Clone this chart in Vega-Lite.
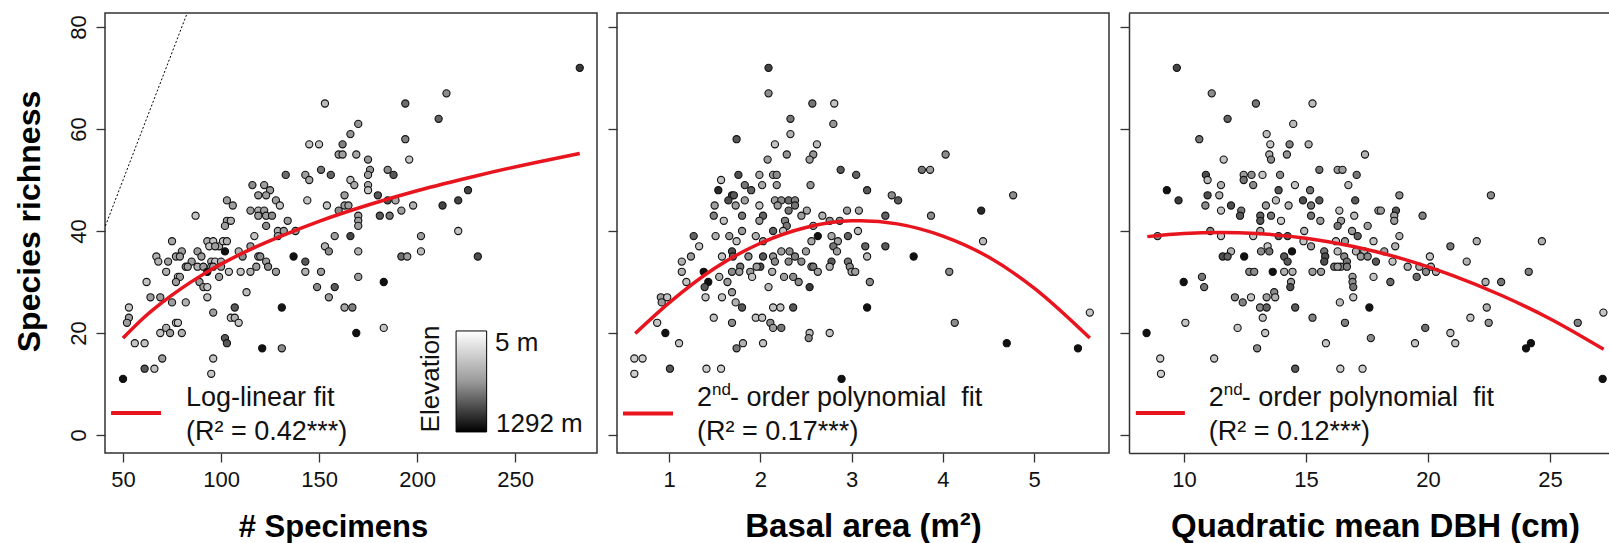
{
"$schema": "https://vega.github.io/schema/vega-lite/v6.json",
"padding": {"left": 12, "top": 12, "right": 0, "bottom": 0},
"autosize": {"type": "pad"},
"background": "white",
"spacing": 20,
"bounds": "flush",
"resolve": {"scale": {"x": "independent"}},
"config": {
  "view": {"stroke": "#333", "strokeWidth": 1.5},
  "axis": {"labelFont": "Liberation Sans", "labelFontSize": 22, "labelColor": "#111", "tickColor": "#333", "tickWidth": 1.3, "tickSize": 9, "domain": false, "grid": false, "titleFont": "Liberation Sans", "titleFontWeight": "bold", "titleFontSize": 31, "titleColor": "#000"},
  "text": {"font": "Liberation Sans", "color": "#111"}
},
"datasets": {
  "specimens": [
{"x":283,"richness":72,"elevation":1000},{"x":215,"richness":67,"elevation":600},{"x":153,"richness":65,"elevation":350},{"x":194,"richness":65,"elevation":750},{"x":211,"richness":62,"elevation":800},{"x":170,"richness":61,"elevation":550},{"x":166,"richness":59,"elevation":550},{"x":194,"richness":58,"elevation":650},{"x":145,"richness":57,"elevation":300},{"x":150,"richness":57,"elevation":300},{"x":162,"richness":57,"elevation":650},{"x":160,"richness":55,"elevation":500},{"x":162,"richness":55,"elevation":500},{"x":169,"richness":55,"elevation":450},{"x":175,"richness":54,"elevation":550},{"x":196,"richness":54,"elevation":300},{"x":151,"richness":52,"elevation":700},{"x":156,"richness":51,"elevation":800},{"x":176,"richness":52,"elevation":550},{"x":185,"richness":52,"elevation":600},{"x":188,"richness":51,"elevation":850},{"x":175,"richness":51,"elevation":500},{"x":133,"richness":51,"elevation":750},{"x":143,"richness":51,"elevation":500},{"x":145,"richness":50,"elevation":450},{"x":166,"richness":50,"elevation":300},{"x":168,"richness":49,"elevation":450},{"x":175,"richness":49,"elevation":450},{"x":175,"richness":48,"elevation":300},{"x":226,"richness":48,"elevation":950},{"x":116,"richness":49,"elevation":600},{"x":122,"richness":49,"elevation":500},{"x":125,"richness":48,"elevation":500},{"x":119,"richness":47,"elevation":500},{"x":123,"richness":47,"elevation":500},{"x":144,"richness":46,"elevation":300},{"x":163,"richness":47,"elevation":500},{"x":180,"richness":47,"elevation":850},{"x":185,"richness":46,"elevation":900},{"x":189,"richness":46,"elevation":450},{"x":213,"richness":45,"elevation":950},{"x":221,"richness":46,"elevation":950},{"x":103,"richness":46,"elevation":500},{"x":106,"richness":45,"elevation":500},{"x":128,"richness":46,"elevation":500},{"x":130,"richness":45,"elevation":300},{"x":154,"richness":45,"elevation":300},{"x":163,"richness":45,"elevation":500},{"x":165,"richness":45,"elevation":500},{"x":198,"richness":45,"elevation":400},{"x":115,"richness":44,"elevation":500},{"x":119,"richness":44,"elevation":400},{"x":122,"richness":44,"elevation":500},{"x":160,"richness":44,"elevation":600},{"x":192,"richness":44,"elevation":500},{"x":87,"richness":43,"elevation":300},{"x":103,"richness":42,"elevation":500},{"x":105,"richness":42,"elevation":400},{"x":119,"richness":43,"elevation":500},{"x":123,"richness":43,"elevation":500},{"x":126,"richness":43,"elevation":600},{"x":170,"richness":43,"elevation":500},{"x":181,"richness":43,"elevation":850},{"x":186,"richness":43,"elevation":700},{"x":134,"richness":42,"elevation":500},{"x":170,"richness":42,"elevation":500},{"x":170,"richness":41,"elevation":500},{"x":102,"richness":41,"elevation":500},{"x":123,"richness":41,"elevation":600},{"x":129,"richness":40,"elevation":400},{"x":132,"richness":40,"elevation":500},{"x":138,"richness":40,"elevation":500},{"x":221,"richness":40,"elevation":300},{"x":129,"richness":39,"elevation":500},{"x":117,"richness":39,"elevation":300},{"x":158,"richness":39,"elevation":500},{"x":166,"richness":39,"elevation":950},{"x":202,"richness":39,"elevation":500},{"x":75,"richness":38,"elevation":450},{"x":93,"richness":38,"elevation":400},{"x":96,"richness":38,"elevation":300},{"x":99,"richness":37,"elevation":400},{"x":101,"richness":38,"elevation":300},{"x":103,"richness":38,"elevation":400},{"x":153,"richness":37,"elevation":400},{"x":155,"richness":36,"elevation":600},{"x":170,"richness":36,"elevation":400},{"x":202,"richness":36,"elevation":350},{"x":80,"richness":36,"elevation":500},{"x":88,"richness":36,"elevation":500},{"x":94,"richness":37,"elevation":300},{"x":97,"richness":37,"elevation":500},{"x":102,"richness":36,"elevation":1230},{"x":109,"richness":36,"elevation":400},{"x":111,"richness":35,"elevation":600},{"x":115,"richness":37,"elevation":500},{"x":67,"richness":35,"elevation":400},{"x":68,"richness":34,"elevation":400},{"x":73,"richness":34,"elevation":500},{"x":77,"richness":35,"elevation":500},{"x":79,"richness":35,"elevation":500},{"x":85,"richness":34,"elevation":500},{"x":90,"richness":35,"elevation":500},{"x":95,"richness":34,"elevation":400},{"x":97,"richness":34,"elevation":300},{"x":100,"richness":34,"elevation":400},{"x":119,"richness":35,"elevation":500},{"x":120,"richness":35,"elevation":600},{"x":123,"richness":34,"elevation":500},{"x":137,"richness":35,"elevation":1230},{"x":143,"richness":34,"elevation":850},{"x":192,"richness":35,"elevation":750},{"x":195,"richness":35,"elevation":500},{"x":231,"richness":35,"elevation":900},{"x":82,"richness":33,"elevation":600},{"x":83,"richness":33,"elevation":500},{"x":78,"richness":31,"elevation":300},{"x":79,"richness":31,"elevation":500},{"x":88,"richness":33,"elevation":400},{"x":91,"richness":33,"elevation":500},{"x":95,"richness":33,"elevation":400},{"x":96,"richness":33,"elevation":500},{"x":100,"richness":33,"elevation":500},{"x":104,"richness":32,"elevation":300},{"x":110,"richness":32,"elevation":300},{"x":115,"richness":32,"elevation":400},{"x":93,"richness":32,"elevation":1230},{"x":118,"richness":33,"elevation":500},{"x":124,"richness":33,"elevation":600},{"x":128,"richness":32,"elevation":500},{"x":143,"richness":32,"elevation":400},{"x":151,"richness":32,"elevation":500},{"x":72,"richness":32,"elevation":400},{"x":170,"richness":31,"elevation":500},{"x":99,"richness":31,"elevation":500},{"x":62,"richness":30,"elevation":300},{"x":89,"richness":30,"elevation":500},{"x":91,"richness":29,"elevation":500},{"x":183,"richness":30,"elevation":1230},{"x":149,"richness":29,"elevation":600},{"x":158,"richness":29,"elevation":850},{"x":93,"richness":29,"elevation":300},{"x":77,"richness":30,"elevation":500},{"x":113,"richness":28,"elevation":350},{"x":64,"richness":27,"elevation":500},{"x":69,"richness":27,"elevation":500},{"x":75,"richness":26,"elevation":500},{"x":82,"richness":26,"elevation":400},{"x":53,"richness":25,"elevation":300},{"x":107,"richness":25,"elevation":850},{"x":131,"richness":25,"elevation":1200},{"x":96,"richness":24,"elevation":500},{"x":163,"richness":25,"elevation":450},{"x":167,"richness":25,"elevation":650},{"x":93,"richness":27,"elevation":300},{"x":155,"richness":27,"elevation":500},{"x":105,"richness":23,"elevation":300},{"x":107,"richness":23,"elevation":400},{"x":109,"richness":22,"elevation":300},{"x":53,"richness":23,"elevation":500},{"x":52,"richness":22,"elevation":500},{"x":69,"richness":20,"elevation":300},{"x":72,"richness":21,"elevation":400},{"x":74,"richness":20,"elevation":500},{"x":77,"richness":22,"elevation":300},{"x":78,"richness":22,"elevation":300},{"x":80,"richness":20,"elevation":400},{"x":102,"richness":19,"elevation":850},{"x":103,"richness":18,"elevation":850},{"x":121,"richness":17,"elevation":1230},{"x":131,"richness":17,"elevation":600},{"x":169,"richness":20,"elevation":1230},{"x":183,"richness":21,"elevation":300},{"x":56,"richness":18,"elevation":300},{"x":61,"richness":18,"elevation":300},{"x":61,"richness":13,"elevation":850},{"x":66,"richness":13,"elevation":300},{"x":70,"richness":15,"elevation":500},{"x":96,"richness":15,"elevation":300},{"x":95,"richness":12,"elevation":300},{"x":50,"richness":11,"elevation":1230}
  ],
  "basal": [
{"x":2.09,"richness":72,"elevation":950},{"x":2.09,"richness":67,"elevation":600},{"x":2.57,"richness":65,"elevation":700},{"x":2.81,"richness":65,"elevation":300},{"x":2.33,"richness":62,"elevation":700},{"x":2.8,"richness":61,"elevation":550},{"x":2.33,"richness":59,"elevation":400},{"x":1.74,"richness":58,"elevation":850},{"x":2.16,"richness":57,"elevation":300},{"x":2.62,"richness":57,"elevation":350},{"x":2.29,"richness":55,"elevation":550},{"x":2.58,"richness":55,"elevation":550},{"x":2.54,"richness":54,"elevation":500},{"x":4.03,"richness":55,"elevation":600},{"x":2.08,"richness":54,"elevation":500},{"x":2.88,"richness":52,"elevation":850},{"x":3.77,"richness":52,"elevation":700},{"x":3.86,"richness":52,"elevation":500},{"x":3.05,"richness":51,"elevation":800},{"x":1.76,"richness":51,"elevation":900},{"x":1.99,"richness":51,"elevation":450},{"x":2.14,"richness":51,"elevation":500},{"x":2.18,"richness":51,"elevation":600},{"x":1.57,"richness":50,"elevation":300},{"x":1.83,"richness":49,"elevation":700},{"x":1.9,"richness":48,"elevation":800},{"x":2.02,"richness":49,"elevation":450},{"x":2.18,"richness":49,"elevation":500},{"x":2.55,"richness":49,"elevation":550},{"x":1.54,"richness":48,"elevation":1100},{"x":3.17,"richness":48,"elevation":850},{"x":1.69,"richness":47,"elevation":900},{"x":1.71,"richness":47,"elevation":850},{"x":3.44,"richness":47,"elevation":600},{"x":3.51,"richness":46,"elevation":850},{"x":4.77,"richness":47,"elevation":600},{"x":1.5,"richness":45,"elevation":500},{"x":1.65,"richness":46,"elevation":900},{"x":1.73,"richness":45,"elevation":500},{"x":1.83,"richness":46,"elevation":500},{"x":1.99,"richness":45,"elevation":300},{"x":2.16,"richness":46,"elevation":500},{"x":2.23,"richness":46,"elevation":600},{"x":2.31,"richness":46,"elevation":750},{"x":2.38,"richness":46,"elevation":650},{"x":2.19,"richness":45,"elevation":500},{"x":2.31,"richness":44,"elevation":700},{"x":2.38,"richness":45,"elevation":700},{"x":2.51,"richness":44,"elevation":450},{"x":2.95,"richness":44,"elevation":500},{"x":3.08,"richness":44,"elevation":450},{"x":4.42,"richness":44,"elevation":1100},{"x":1.49,"richness":43,"elevation":650},{"x":1.8,"richness":43,"elevation":700},{"x":2.03,"richness":43,"elevation":800},{"x":3.87,"richness":43,"elevation":600},{"x":3.37,"richness":43,"elevation":800},{"x":2.68,"richness":43,"elevation":400},{"x":1.6,"richness":42,"elevation":300},{"x":1.99,"richness":42,"elevation":500},{"x":2.27,"richness":42,"elevation":650},{"x":2.29,"richness":41,"elevation":700},{"x":2.45,"richness":43,"elevation":500},{"x":2.76,"richness":42,"elevation":600},{"x":2.87,"richness":42,"elevation":600},{"x":2.58,"richness":41,"elevation":550},{"x":1.8,"richness":40,"elevation":500},{"x":2.14,"richness":40,"elevation":800},{"x":2.25,"richness":40,"elevation":300},{"x":3.07,"richness":40,"elevation":350},{"x":1.27,"richness":39,"elevation":800},{"x":1.51,"richness":39,"elevation":400},{"x":1.66,"richness":39,"elevation":500},{"x":1.95,"richness":39,"elevation":400},{"x":2.63,"richness":39,"elevation":1230},{"x":2.78,"richness":39,"elevation":450},{"x":2.96,"richness":39,"elevation":800},{"x":1.33,"richness":37,"elevation":300},{"x":1.74,"richness":38,"elevation":300},{"x":2.03,"richness":38,"elevation":500},{"x":2.56,"richness":38,"elevation":450},{"x":2.85,"richness":38,"elevation":500},{"x":4.44,"richness":38,"elevation":350},{"x":1.69,"richness":36,"elevation":900},{"x":1.7,"richness":35,"elevation":800},{"x":2.8,"richness":37,"elevation":700},{"x":3.15,"richness":37,"elevation":800},{"x":3.37,"richness":37,"elevation":850},{"x":1.24,"richness":35,"elevation":500},{"x":1.58,"richness":35,"elevation":300},{"x":1.87,"richness":35,"elevation":600},{"x":2.03,"richness":35,"elevation":850},{"x":2.14,"richness":35,"elevation":550},{"x":2.23,"richness":36,"elevation":500},{"x":2.32,"richness":36,"elevation":600},{"x":2.38,"richness":35,"elevation":650},{"x":2.5,"richness":36,"elevation":500},{"x":2.45,"richness":34,"elevation":600},{"x":2.56,"richness":33,"elevation":500},{"x":2.84,"richness":36,"elevation":500},{"x":3.17,"richness":35,"elevation":350},{"x":3.68,"richness":35,"elevation":1230},{"x":1.14,"richness":34,"elevation":400},{"x":1.14,"richness":32,"elevation":400},{"x":1.78,"richness":33,"elevation":700},{"x":1.69,"richness":32,"elevation":600},{"x":1.77,"richness":32,"elevation":500},{"x":2.0,"richness":33,"elevation":900},{"x":2.16,"richness":34,"elevation":600},{"x":2.31,"richness":34,"elevation":600},{"x":2.78,"richness":34,"elevation":850},{"x":2.96,"richness":34,"elevation":700},{"x":2.98,"richness":33,"elevation":600},{"x":3.0,"richness":32,"elevation":450},{"x":3.04,"richness":32,"elevation":500},{"x":2.76,"richness":33,"elevation":400},{"x":2.58,"richness":33,"elevation":700},{"x":2.63,"richness":32,"elevation":500},{"x":4.07,"richness":32,"elevation":600},{"x":1.38,"richness":32,"elevation":1230},{"x":1.89,"richness":32,"elevation":500},{"x":1.96,"richness":33,"elevation":500},{"x":2.13,"richness":32,"elevation":400},{"x":1.91,"richness":31,"elevation":300},{"x":2.26,"richness":31,"elevation":500},{"x":2.36,"richness":31,"elevation":600},{"x":1.55,"richness":31,"elevation":400},{"x":1.19,"richness":30,"elevation":300},{"x":1.43,"richness":30,"elevation":1230},{"x":1.64,"richness":30,"elevation":500},{"x":2.42,"richness":30,"elevation":600},{"x":3.2,"richness":30,"elevation":600},{"x":1.39,"richness":29,"elevation":850},{"x":2.09,"richness":29,"elevation":350},{"x":2.54,"richness":29,"elevation":1000},{"x":0.91,"richness":27,"elevation":500},{"x":0.98,"richness":27,"elevation":300},{"x":0.92,"richness":26,"elevation":500},{"x":1.4,"richness":27,"elevation":300},{"x":1.58,"richness":27,"elevation":300},{"x":1.69,"richness":28,"elevation":500},{"x":1.73,"richness":26,"elevation":400},{"x":1.8,"richness":25,"elevation":850},{"x":2.14,"richness":25,"elevation":300},{"x":2.22,"richness":25,"elevation":300},{"x":2.36,"richness":25,"elevation":850},{"x":3.17,"richness":25,"elevation":1230},{"x":0.87,"richness":22,"elevation":300},{"x":1.49,"richness":23,"elevation":300},{"x":1.69,"richness":22,"elevation":600},{"x":1.95,"richness":23,"elevation":300},{"x":2.02,"richness":23,"elevation":300},{"x":2.11,"richness":22,"elevation":600},{"x":2.14,"richness":21,"elevation":500},{"x":2.23,"richness":21,"elevation":700},{"x":4.13,"richness":22,"elevation":600},{"x":5.61,"richness":24,"elevation":300},{"x":0.96,"richness":20,"elevation":1230},{"x":1.11,"richness":18,"elevation":300},{"x":1.74,"richness":17,"elevation":700},{"x":1.81,"richness":18,"elevation":400},{"x":2.03,"richness":18,"elevation":300},{"x":2.54,"richness":20,"elevation":350},{"x":2.53,"richness":19,"elevation":600},{"x":2.76,"richness":20,"elevation":300},{"x":4.7,"richness":18,"elevation":1230},{"x":5.48,"richness":17,"elevation":1230},{"x":0.62,"richness":15,"elevation":250},{"x":0.71,"richness":15,"elevation":250},{"x":0.62,"richness":12,"elevation":250},{"x":1.01,"richness":13,"elevation":850},{"x":1.41,"richness":13,"elevation":250},{"x":1.57,"richness":13,"elevation":250},{"x":2.89,"richness":11,"elevation":1230}
  ],
  "dbh": [
{"x":9.71,"richness":72,"elevation":950},{"x":11.14,"richness":67,"elevation":600},{"x":12.95,"richness":65,"elevation":700},{"x":15.27,"richness":65,"elevation":350},{"x":11.79,"richness":62,"elevation":800},{"x":14.48,"richness":61,"elevation":350},{"x":10.63,"richness":58,"elevation":700},{"x":13.39,"richness":59,"elevation":350},{"x":13.54,"richness":57,"elevation":300},{"x":14.33,"richness":57,"elevation":650},{"x":15.11,"richness":57,"elevation":400},{"x":13.5,"richness":55,"elevation":400},{"x":14.22,"richness":55,"elevation":550},{"x":17.42,"richness":55,"elevation":400},{"x":11.63,"richness":54,"elevation":300},{"x":13.57,"richness":54,"elevation":600},{"x":15.55,"richness":52,"elevation":700},{"x":16.3,"richness":52,"elevation":500},{"x":16.5,"richness":52,"elevation":500},{"x":10.9,"richness":51,"elevation":900},{"x":10.97,"richness":50,"elevation":350},{"x":12.45,"richness":51,"elevation":500},{"x":12.77,"richness":51,"elevation":600},{"x":12.45,"richness":50,"elevation":700},{"x":13.22,"richness":51,"elevation":300},{"x":13.94,"richness":51,"elevation":600},{"x":17.08,"richness":51,"elevation":700},{"x":11.52,"richness":49,"elevation":400},{"x":12.84,"richness":49,"elevation":600},{"x":14.55,"richness":49,"elevation":300},{"x":16.74,"richness":49,"elevation":350},{"x":9.3,"richness":48,"elevation":1230},{"x":13.88,"richness":48,"elevation":850},{"x":15.17,"richness":48,"elevation":700},{"x":9.78,"richness":46,"elevation":1000},{"x":10.97,"richness":47,"elevation":900},{"x":11.45,"richness":47,"elevation":400},{"x":18.83,"richness":47,"elevation":600},{"x":22.58,"richness":47,"elevation":600},{"x":10.88,"richness":45,"elevation":600},{"x":11.93,"richness":45,"elevation":900},{"x":11.52,"richness":44,"elevation":300},{"x":12.35,"richness":44,"elevation":700},{"x":12.3,"richness":43,"elevation":850},{"x":13.36,"richness":45,"elevation":500},{"x":13.77,"richness":46,"elevation":350},{"x":14.29,"richness":45,"elevation":400},{"x":14.88,"richness":46,"elevation":900},{"x":15.21,"richness":45,"elevation":700},{"x":15.55,"richness":46,"elevation":850},{"x":16.37,"richness":44,"elevation":300},{"x":17.02,"richness":46,"elevation":850},{"x":17.97,"richness":44,"elevation":500},{"x":18.07,"richness":44,"elevation":500},{"x":18.69,"richness":44,"elevation":850},{"x":18.62,"richness":43,"elevation":500},{"x":19.78,"richness":43,"elevation":650},{"x":13.13,"richness":43,"elevation":800},{"x":13.13,"richness":42,"elevation":850},{"x":13.13,"richness":40,"elevation":400},{"x":13.57,"richness":43,"elevation":700},{"x":13.98,"richness":42,"elevation":250},{"x":15.21,"richness":43,"elevation":700},{"x":15.59,"richness":42,"elevation":500},{"x":16.44,"richness":42,"elevation":500},{"x":16.3,"richness":41,"elevation":700},{"x":16.98,"richness":43,"elevation":350},{"x":17.53,"richness":41,"elevation":500},{"x":18.62,"richness":42,"elevation":500},{"x":14.93,"richness":40,"elevation":350},{"x":16.89,"richness":40,"elevation":500},{"x":17.12,"richness":39,"elevation":800},{"x":11.08,"richness":40,"elevation":600},{"x":8.92,"richness":39,"elevation":600},{"x":11.52,"richness":39,"elevation":300},{"x":12.84,"richness":39,"elevation":300},{"x":13.88,"richness":39,"elevation":800},{"x":14.25,"richness":39,"elevation":850},{"x":18.83,"richness":39,"elevation":400},{"x":14.9,"richness":38,"elevation":300},{"x":15.21,"richness":37,"elevation":500},{"x":16.23,"richness":38,"elevation":300},{"x":16.6,"richness":38,"elevation":500},{"x":17.77,"richness":38,"elevation":300},{"x":18.66,"richness":37,"elevation":400},{"x":22.0,"richness":38,"elevation":400},{"x":24.67,"richness":38,"elevation":400},{"x":20.92,"richness":37,"elevation":700},{"x":13.43,"richness":37,"elevation":300},{"x":11.93,"richness":36,"elevation":400},{"x":13.16,"richness":36,"elevation":600},{"x":13.5,"richness":36,"elevation":700},{"x":14.43,"richness":36,"elevation":1230},{"x":15.75,"richness":36,"elevation":700},{"x":16.3,"richness":36,"elevation":350},{"x":17.05,"richness":36,"elevation":400},{"x":17.39,"richness":36,"elevation":400},{"x":18.21,"richness":36,"elevation":500},{"x":11.59,"richness":35,"elevation":900},{"x":11.79,"richness":35,"elevation":800},{"x":12.47,"richness":35,"elevation":1230},{"x":14.11,"richness":35,"elevation":850},{"x":14.25,"richness":34,"elevation":850},{"x":15.79,"richness":35,"elevation":900},{"x":15.75,"richness":34,"elevation":900},{"x":16.57,"richness":35,"elevation":600},{"x":16.68,"richness":34,"elevation":700},{"x":16.16,"richness":33,"elevation":700},{"x":16.43,"richness":33,"elevation":600},{"x":16.68,"richness":33,"elevation":650},{"x":17.25,"richness":35,"elevation":500},{"x":17.53,"richness":35,"elevation":600},{"x":17.87,"richness":34,"elevation":850},{"x":18.55,"richness":34,"elevation":300},{"x":20.08,"richness":35,"elevation":300},{"x":21.59,"richness":34,"elevation":400},{"x":19.17,"richness":33,"elevation":400},{"x":19.65,"richness":33,"elevation":400},{"x":19.92,"richness":32,"elevation":600},{"x":20.12,"richness":33,"elevation":400},{"x":20.33,"richness":32,"elevation":400},{"x":12.68,"richness":32,"elevation":600},{"x":12.88,"richness":32,"elevation":600},{"x":13.64,"richness":32,"elevation":1230},{"x":14.11,"richness":32,"elevation":400},{"x":14.45,"richness":32,"elevation":400},{"x":15.27,"richness":32,"elevation":500},{"x":15.62,"richness":32,"elevation":500},{"x":16.3,"richness":33,"elevation":500},{"x":14.39,"richness":30,"elevation":500},{"x":14.36,"richness":29,"elevation":900},{"x":16.91,"richness":31,"elevation":500},{"x":16.91,"richness":30,"elevation":600},{"x":16.94,"richness":29,"elevation":700},{"x":17.77,"richness":31,"elevation":300},{"x":18.46,"richness":30,"elevation":750},{"x":19.54,"richness":31,"elevation":750},{"x":22.36,"richness":30,"elevation":400},{"x":23.0,"richness":30,"elevation":700},{"x":24.13,"richness":32,"elevation":650},{"x":9.99,"richness":30,"elevation":1230},{"x":10.74,"richness":31,"elevation":700},{"x":10.83,"richness":29,"elevation":700},{"x":12.09,"richness":27,"elevation":600},{"x":12.41,"richness":26,"elevation":650},{"x":12.75,"richness":27,"elevation":300},{"x":13.39,"richness":27,"elevation":500},{"x":13.7,"richness":28,"elevation":600},{"x":13.74,"richness":27,"elevation":400},{"x":13.12,"richness":25,"elevation":600},{"x":13.39,"richness":25,"elevation":800},{"x":13.23,"richness":23,"elevation":300},{"x":14.56,"richness":25,"elevation":850},{"x":16.39,"richness":26,"elevation":350},{"x":16.94,"richness":27,"elevation":300},{"x":17.6,"richness":25,"elevation":1230},{"x":15.27,"richness":23,"elevation":650},{"x":16.6,"richness":22,"elevation":650},{"x":21.74,"richness":23,"elevation":300},{"x":22.41,"richness":25,"elevation":400},{"x":22.49,"richness":22,"elevation":550},{"x":26.14,"richness":22,"elevation":650},{"x":27.19,"richness":24,"elevation":300},{"x":10.06,"richness":22,"elevation":300},{"x":8.47,"richness":20,"elevation":1230},{"x":12.2,"richness":21,"elevation":300},{"x":13.33,"richness":20,"elevation":300},{"x":19.89,"richness":21,"elevation":750},{"x":20.92,"richness":20,"elevation":300},{"x":13.0,"richness":17,"elevation":600},{"x":15.82,"richness":18,"elevation":300},{"x":17.66,"richness":19,"elevation":600},{"x":19.47,"richness":18,"elevation":300},{"x":21.12,"richness":18,"elevation":300},{"x":24.02,"richness":17,"elevation":1230},{"x":24.22,"richness":18,"elevation":1230},{"x":9.03,"richness":15,"elevation":250},{"x":11.24,"richness":15,"elevation":300},{"x":9.06,"richness":12,"elevation":250},{"x":14.56,"richness":13,"elevation":850},{"x":16.41,"richness":13,"elevation":250},{"x":17.32,"richness":13,"elevation":250},{"x":27.16,"richness":11,"elevation":1230}
  ],
  "fit1": [{"x":50,"richness":19.0},{"x":60,"richness":22.8},{"x":70,"richness":26.0},{"x":80,"richness":28.8},{"x":90,"richness":31.3},{"x":100,"richness":33.5},{"x":115,"richness":36.4},{"x":130,"richness":38.9},{"x":150,"richness":41.9},{"x":175,"richness":45.1},{"x":200,"richness":47.9},{"x":230,"richness":50.8},{"x":260,"richness":53.4},{"x":283,"richness":55.2}],
  "fit2": [{"x":0.63,"richness":19.9},{"x":1.0,"richness":25.9},{"x":1.5,"richness":32.7},{"x":2.0,"richness":37.6},{"x":2.5,"richness":40.7},{"x":3.0,"richness":42.0},{"x":3.1,"richness":42.0},{"x":3.5,"richness":41.4},{"x":4.0,"richness":39.0},{"x":4.5,"richness":34.9},{"x":5.0,"richness":28.8},{"x":5.61,"richness":19.0}],
  "fit3": [{"x":8.5,"richness":38.9},{"x":10,"richness":39.5},{"x":11.5,"richness":39.7},{"x":13,"richness":39.5},{"x":15,"richness":38.6},{"x":17,"richness":36.9},{"x":19,"richness":34.5},{"x":21,"richness":31.3},{"x":23,"richness":27.4},{"x":25,"richness":22.8},{"x":27.2,"richness":16.8}],
  "identity": [{"x":0,"richness":0},{"x":100,"richness":100}]
},
"hconcat": [
{
 "width": 492, "height": 440,
 "layer": [
  {"data": {"name": "identity"}, "mark": {"type": "line", "clip": true, "color": "#000", "strokeWidth": 1, "strokeDash": [2, 2]},
   "encoding": {"x": {"field": "x", "type": "quantitative"}, "y": {"field": "richness", "type": "quantitative"}}},
  {"data": {"name": "specimens"}, "mark": {"type": "circle", "size": 52, "stroke": "#111", "strokeWidth": 1.1, "opacity": 1},
   "encoding": {
    "x": {"field": "x", "type": "quantitative", "scale": {"domain": [40.8, 291.8], "nice": false, "zero": false},
          "axis": {"values": [50, 100, 150, 200, 250], "title": "# Specimens", "titleFontSize": 31, "labelPadding": 24, "labelBaseline": "alphabetic", "titleX": 228, "titleY": 83, "titleAlign": "center", "titleBaseline": "alphabetic"}},
    "y": {"field": "richness", "type": "quantitative", "scale": {"domain": [-3.53, 82.75], "nice": false, "zero": false},
          "axis": {"values": [0, 20, 40, 60, 80], "title": "Species richness", "labelAngle": 270, "labelAlign": "center", "labelBaseline": "alphabetic", "labelPadding": 11, "titleAngle": 270, "titleX": -66, "titleY": 208, "titleAlign": "center", "titleBaseline": "alphabetic", "titleFontSize": 32}},
    "fill": {"field": "elevation", "type": "quantitative", "scale": {"domain": [5, 600, 1292], "range": ["#ffffff", "#8c8c8c", "#000000"]}, "legend": null}
   }},
  {"data": {"name": "fit1"}, "mark": {"type": "line", "color": "#e8141e", "strokeWidth": 3.5, "interpolate": "monotone"},
   "encoding": {"x": {"field": "x", "type": "quantitative"}, "y": {"field": "richness", "type": "quantitative"}}},
  {"data": {"values": [{}]}, "mark": {"type": "rule", "color": "#e8141e", "strokeWidth": 4},
   "encoding": {"x": {"datum": 43.9}, "x2": {"datum": 69.4}, "y": {"datum": 4.3}}},
  {"data": {"values": [{"label": "Log-linear fit"}]}, "mark": {"type": "text", "fontSize": 27, "align": "left", "baseline": "middle"},
   "encoding": {"x": {"datum": 82.1}, "y": {"datum": 7.25}, "text": {"field": "label"}}},
  {"data": {"values": [{"label": "(R² = 0.42***)"}]}, "mark": {"type": "text", "fontSize": 27, "align": "left", "baseline": "middle"},
   "encoding": {"x": {"datum": 82.1}, "y": {"datum": 0.6}, "text": {"field": "label"}}},
  {"data": {"values": [{}]}, "mark": {"type": "rect", "stroke": "#000", "strokeWidth": 1, "fill": {"gradient": "linear", "x1": 0, "y1": 0, "x2": 0, "y2": 1, "stops": [{"offset": 0, "color": "#ffffff"}, {"offset": 0.5, "color": "#9a9a9a"}, {"offset": 1, "color": "#000000"}]}},
   "encoding": {"x": {"datum": 219.9}, "x2": {"datum": 235.5}, "y": {"datum": 20.4}, "y2": {"datum": 0.6}}},
  {"data": {"values": [{"label": "Elevation"}]}, "mark": {"type": "text", "fontSize": 26, "angle": 270, "align": "center", "baseline": "middle"},
   "encoding": {"x": {"datum": 207.1}, "y": {"datum": 11.0}, "text": {"field": "label"}}},
  {"data": {"values": [{"label": "5 m"}]}, "mark": {"type": "text", "fontSize": 26, "align": "left", "baseline": "middle"},
   "encoding": {"x": {"datum": 239.8}, "y": {"datum": 18.0}, "text": {"field": "label"}}},
  {"data": {"values": [{"label": "1292 m"}]}, "mark": {"type": "text", "fontSize": 26, "align": "left", "baseline": "middle"},
   "encoding": {"x": {"datum": 240.3}, "y": {"datum": 2.2}, "text": {"field": "label"}}}
 ]
},
{
 "width": 492, "height": 440,
 "layer": [
  {"data": {"name": "basal"}, "mark": {"type": "circle", "size": 52, "stroke": "#111", "strokeWidth": 1.1, "opacity": 1},
   "encoding": {
    "x": {"field": "x", "type": "quantitative", "scale": {"domain": [0.43, 5.82], "nice": false, "zero": false},
          "axis": {"values": [1, 2, 3, 4, 5], "format": "d", "title": "Basal area (m²)", "titleFontSize": 33, "labelPadding": 24, "labelBaseline": "alphabetic", "titleX": 246, "titleY": 83, "titleAlign": "center", "titleBaseline": "alphabetic"}},
    "y": {"field": "richness", "type": "quantitative", "scale": {"domain": [-3.53, 82.75], "nice": false, "zero": false},
          "axis": {"values": [0, 20, 40, 60, 80], "labels": false, "title": null}},
    "fill": {"field": "elevation", "type": "quantitative", "scale": {"domain": [5, 600, 1292], "range": ["#ffffff", "#8c8c8c", "#000000"]}, "legend": null}
   }},
  {"data": {"name": "fit2"}, "mark": {"type": "line", "color": "#e8141e", "strokeWidth": 3.5, "interpolate": "monotone"},
   "encoding": {"x": {"field": "x", "type": "quantitative"}, "y": {"field": "richness", "type": "quantitative"}}},
  {"data": {"values": [{}]}, "mark": {"type": "rule", "color": "#e8141e", "strokeWidth": 4},
   "encoding": {"x": {"datum": 0.496}, "x2": {"datum": 1.044}, "y": {"datum": 4.2}}},
  {"data": {"values": [{"label": "2"}]}, "mark": {"type": "text", "fontSize": 27, "align": "left", "baseline": "middle"},
   "encoding": {"x": {"datum": 1.307}, "y": {"datum": 7.25}, "text": {"field": "label"}}},
  {"data": {"values": [{"label": "nd"}]}, "mark": {"type": "text", "fontSize": 17, "align": "left", "baseline": "middle", "dx": 15, "dy": -8},
   "encoding": {"x": {"datum": 1.307}, "y": {"datum": 7.25}, "text": {"field": "label"}}},
  {"data": {"values": [{"label": "- order polynomial\u00a0 fit"}]}, "mark": {"type": "text", "fontSize": 27, "align": "left", "baseline": "middle", "dx": 33},
   "encoding": {"x": {"datum": 1.307}, "y": {"datum": 7.25}, "text": {"field": "label"}}},
  {"data": {"values": [{"label": "(R² = 0.17***)"}]}, "mark": {"type": "text", "fontSize": 27, "align": "left", "baseline": "middle"},
   "encoding": {"x": {"datum": 1.307}, "y": {"datum": 0.6}, "text": {"field": "label"}}}
 ]
},
{
 "width": 480, "height": 440,
 "view": {"stroke": null},
 "layer": [
  {"data": {"values": [{}]}, "mark": {"type": "rule", "color": "#333", "strokeWidth": 1.5},
   "encoding": {"y": {"datum": 82.75}}},
  {"data": {"name": "dbh"}, "mark": {"type": "circle", "size": 52, "stroke": "#111", "strokeWidth": 1.1, "opacity": 1},
   "encoding": {
    "x": {"field": "x", "type": "quantitative", "scale": {"domain": [7.75, 27.42], "nice": false, "zero": false},
          "axis": {"values": [10, 15, 20, 25], "title": "Quadratic mean DBH (cm)", "titleFontSize": 33, "domain": true, "domainColor": "#333", "domainWidth": 1.5, "labelPadding": 24, "labelBaseline": "alphabetic", "titleX": 246, "titleY": 83, "titleAlign": "center", "titleBaseline": "alphabetic"}},
    "y": {"field": "richness", "type": "quantitative", "scale": {"domain": [-3.53, 82.75], "nice": false, "zero": false},
          "axis": {"values": [0, 20, 40, 60, 80], "labels": false, "title": null, "domain": true, "domainColor": "#333", "domainWidth": 1.5}},
    "fill": {"field": "elevation", "type": "quantitative", "scale": {"domain": [5, 600, 1292], "range": ["#ffffff", "#8c8c8c", "#000000"]}, "legend": null}
   }},
  {"data": {"name": "fit3"}, "mark": {"type": "line", "color": "#e8141e", "strokeWidth": 3.5, "interpolate": "monotone"},
   "encoding": {"x": {"field": "x", "type": "quantitative"}, "y": {"field": "richness", "type": "quantitative"}}},
  {"data": {"values": [{}]}, "mark": {"type": "rule", "color": "#e8141e", "strokeWidth": 4},
   "encoding": {"x": {"datum": 8.03}, "x2": {"datum": 10.04}, "y": {"datum": 4.3}}},
  {"data": {"values": [{"label": "2"}]}, "mark": {"type": "text", "fontSize": 27, "align": "left", "baseline": "middle"},
   "encoding": {"x": {"datum": 11.02}, "y": {"datum": 7.25}, "text": {"field": "label"}}},
  {"data": {"values": [{"label": "nd"}]}, "mark": {"type": "text", "fontSize": 17, "align": "left", "baseline": "middle", "dx": 15, "dy": -8},
   "encoding": {"x": {"datum": 11.02}, "y": {"datum": 7.25}, "text": {"field": "label"}}},
  {"data": {"values": [{"label": "- order polynomial\u00a0 fit"}]}, "mark": {"type": "text", "fontSize": 27, "align": "left", "baseline": "middle", "dx": 33},
   "encoding": {"x": {"datum": 11.02}, "y": {"datum": 7.25}, "text": {"field": "label"}}},
  {"data": {"values": [{"label": "(R² = 0.12***)"}]}, "mark": {"type": "text", "fontSize": 27, "align": "left", "baseline": "middle"},
   "encoding": {"x": {"datum": 11.02}, "y": {"datum": 0.6}, "text": {"field": "label"}}}
 ]
}
]
}
